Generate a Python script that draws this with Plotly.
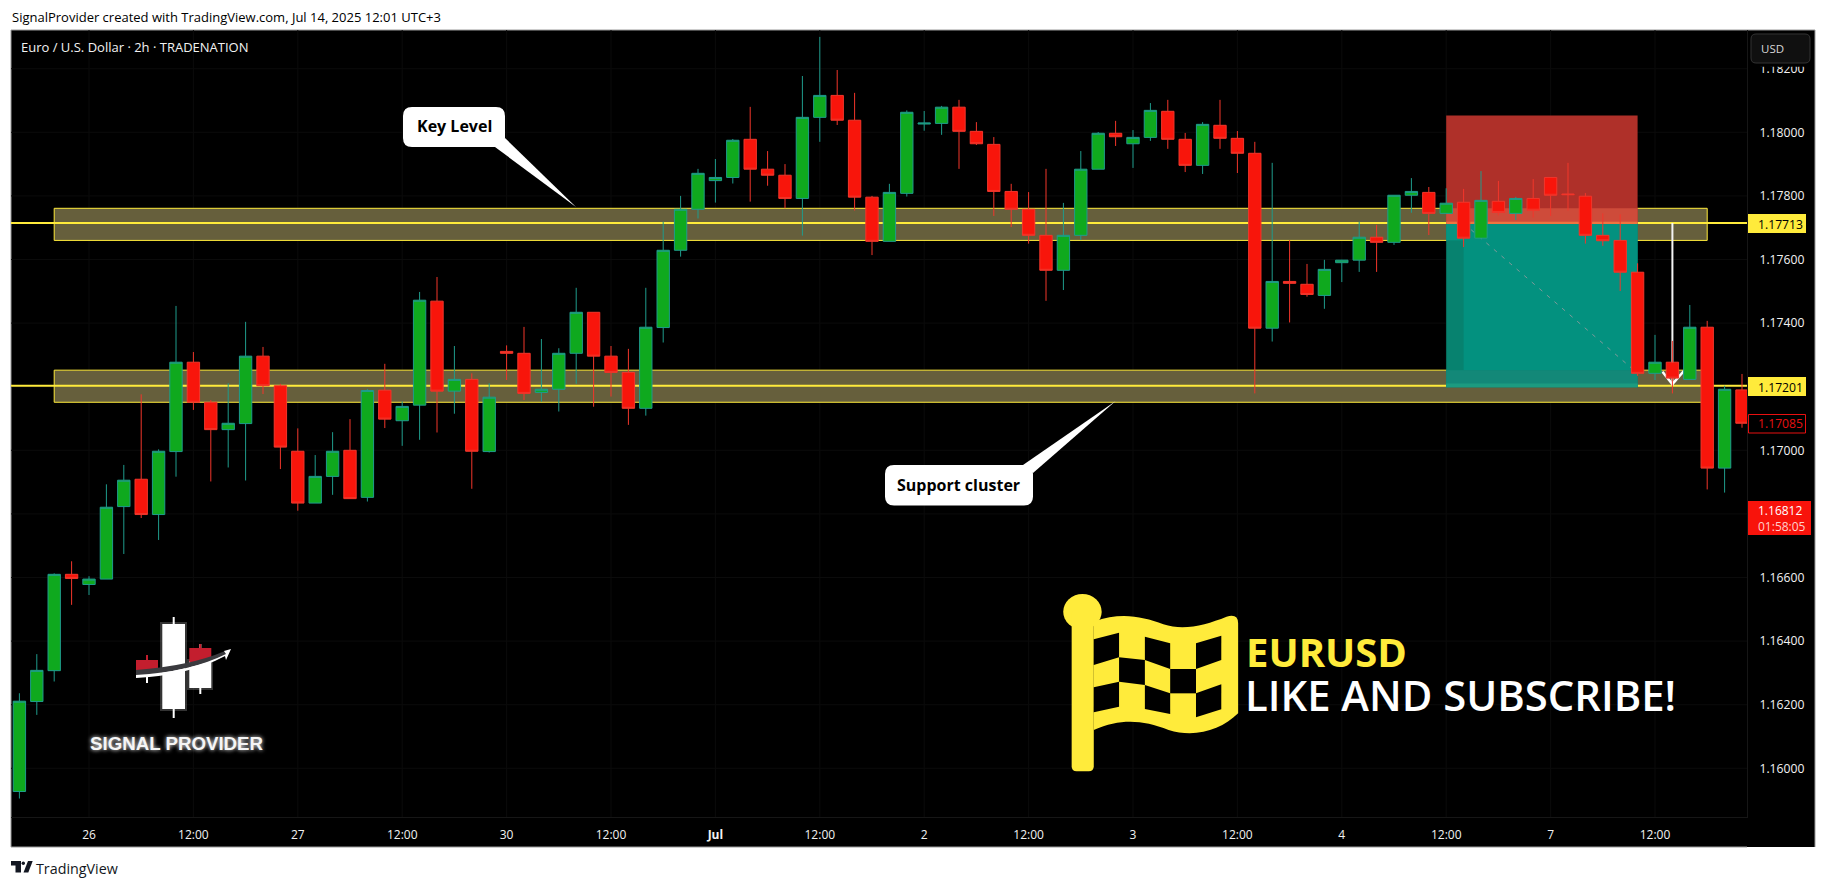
import plotly.graph_objects as go

W, H = 1826, 887

opens = [1.15927,1.16210,1.16307,1.16610,1.16578,1.16595,1.16823,1.16909,1.16798,1.16996,
         1.17277,1.17151,1.17065,1.17084,1.17296,1.17203,1.16997,1.16834,1.16918,1.17000,
         1.16852,1.17189,1.17093,1.17142,1.17469,1.17186,1.17223,1.16996,1.17311,1.17305,
         1.17182,1.17192,1.17305,1.17434,1.17296,1.17245,1.17132,1.17386,1.17629,1.17758,
         1.17848,1.17858,1.17978,1.17884,1.17865,1.17792,1.18047,1.18116,1.18038,1.17796,
         1.17657,1.17808,1.18026,1.18028,1.18079,1.18003,1.17962,1.17814,1.17758,1.17676,
         1.17566,1.17676,1.17884,1.17997,1.17964,1.17984,1.18066,1.17978,1.17896,1.18022,
         1.17981,1.17934,1.17384,1.17531,1.17522,1.17487,1.17590,1.17598,1.17670,1.17654,
         1.17802,1.17811,1.17745,1.17780,1.17667,1.17783,1.17745,1.17792,1.17858,1.17806,
         1.17799,1.17676,1.17660,1.17560,1.17242,1.17277,1.17223,1.17387,1.16944,1.17190]
highs = [1.16236,1.16359,1.16613,1.16651,1.16604,1.16893,1.16954,1.17176,1.17003,1.17454,
         1.17309,1.17158,1.17211,1.17404,1.17325,1.17209,1.17069,1.16985,1.17057,1.17098,
         1.17193,1.17272,1.17154,1.17498,1.17545,1.17328,1.17242,1.17211,1.17330,1.17388,
         1.17350,1.17321,1.17511,1.17434,1.17328,1.17319,1.17511,1.17719,1.17800,1.17885,
         1.17916,1.17979,1.18080,1.17941,1.17900,1.18177,1.18300,1.18196,1.18124,1.17800,
         1.17838,1.18069,1.18067,1.18083,1.18102,1.18032,1.17985,1.17838,1.17812,1.17885,
         1.17778,1.17941,1.18001,1.18036,1.18007,1.18092,1.18102,1.17998,1.18032,1.18102,
         1.18004,1.17970,1.17904,1.17661,1.17586,1.17599,1.17599,1.17719,1.17709,1.17802,
         1.17856,1.17828,1.17824,1.17822,1.17878,1.17847,1.17797,1.17853,1.17858,1.17904,
         1.17809,1.17745,1.17742,1.17588,1.17363,1.17344,1.17457,1.17407,1.17203,1.17240]
lows = [1.15905,1.16168,1.16273,1.16514,1.16545,1.16595,1.16674,1.16787,1.16718,1.16917,
        1.17127,1.16902,1.16946,1.16905,1.17177,1.16941,1.16810,1.16834,1.16860,1.16848,
        1.16839,1.17070,1.17014,1.17033,1.17056,1.17115,1.16879,1.16993,1.17221,1.17158,
        1.17153,1.17122,1.17209,1.17137,1.17169,1.17080,1.17109,1.17339,1.17609,1.17729,
        1.17779,1.17839,1.17782,1.17832,1.17761,1.17675,1.17970,1.18023,1.17754,1.17614,
        1.17657,1.17798,1.18005,1.17992,1.17885,1.17960,1.17737,1.17702,1.17650,1.17470,
        1.17504,1.17661,1.17884,1.17957,1.17888,1.17973,1.17948,1.17875,1.17869,1.17948,
        1.17872,1.17179,1.17342,1.17402,1.17483,1.17445,1.17529,1.17561,1.17561,1.17646,
        1.17747,1.17677,1.17745,1.17639,1.17667,1.17739,1.17724,1.17732,1.17737,1.17754,
        1.17650,1.17643,1.17501,1.17234,1.17221,1.17179,1.17223,1.16877,1.16867,1.17071]
closes = [1.16211,1.16308,1.16610,1.16597,1.16595,1.16821,1.16906,1.16798,1.16997,1.17277,
          1.17151,1.17065,1.17085,1.17296,1.17203,1.17010,1.16834,1.16918,1.16997,1.16848,
          1.17188,1.17098,1.17138,1.17472,1.17186,1.17223,1.16997,1.17167,1.17305,1.17179,
          1.17192,1.17305,1.17434,1.17296,1.17245,1.17132,1.17387,1.17629,1.17758,1.17871,
          1.17858,1.17975,1.17884,1.17865,1.17792,1.18047,1.18116,1.18038,1.17796,1.17657,
          1.17811,1.18063,1.18029,1.18079,1.18003,1.17964,1.17814,1.17758,1.17676,1.17566,
          1.17676,1.17884,1.17997,1.17986,1.17984,1.18069,1.17978,1.17896,1.18025,1.17981,
          1.17934,1.17384,1.17531,1.17525,1.17490,1.17569,1.17598,1.17670,1.17654,1.17802,
          1.17814,1.17745,1.17777,1.17667,1.17786,1.17748,1.17792,1.17755,1.17802,1.17804,
          1.17676,1.17659,1.17560,1.17242,1.17277,1.17227,1.17387,1.16944,1.17192,1.17085]
bars = list(range(len(opens)))

time_tick_bars = [4, 10, 16, 22, 28, 34, 40, 46, 52, 58, 64, 70, 76, 82, 88, 94]
time_tick_labels = ["26", "12:00", "27", "12:00", "30", "12:00", "<b>Jul</b>", "12:00",
                    "2", "12:00", "3", "12:00", "4", "12:00", "7", "12:00"]
price_ticks = [1.16, 1.162, 1.164, 1.166, 1.168, 1.17, 1.172, 1.174, 1.176, 1.178, 1.18, 1.182]

key_level_zone = [1.17660, 1.17761]
support_zone = [1.17151, 1.17252]
key_level_line = 1.17715
support_line = 1.17203
zone_bars = [2.0, 97.0]
pos_bars = [82, 83, 93]
pos_stop = 1.18053
pos_entry = 1.17714
pos_target = 1.17198
move_bar = 95

YEL = "#FFEB3B"
FONT = "Open Sans"
PLOT_L, PLOT_R, PLOT_T, PLOT_B, FRAME_R, FRAME_B = 11, 1747, 30, 817, 1815, 847

y_of = lambda py: 1.18 - (py - 132.3) / 31800
x_of = lambda px: (px - 19.4) / 17.4
XMIN, XMAX, YMIN, YMAX = x_of(PLOT_L), x_of(PLOT_R), y_of(PLOT_B), y_of(PLOT_T)


def X(p):
    return p / W


def Y(p):
    return 1 - p / H


def path(points, close=True):
    s = "M" + " L".join(f"{X(a):.5f},{Y(b):.5f}" for a, b in points)
    return s + (" Z" if close else "")


def curve(cmds):
    out = []
    for c in cmds:
        pts = " ".join(f"{X(c[i]):.5f},{Y(c[i+1]):.5f}" for i in range(1, len(c), 2))
        out.append(c[0] + pts)
    return " ".join(out) + " Z"


def rrect(x0, y0, x1, y1, r):
    return curve([("M", x0 + r, y0), ("L", x1 - r, y0), ("Q", x1, y0, x1, y0 + r), ("L", x1, y1 - r),
                  ("Q", x1, y1, x1 - r, y1), ("L", x0 + r, y1), ("Q", x0, y1, x0, y1 - r),
                  ("L", x0, y0 + r), ("Q", x0, y0, x0 + r, y0)])


shapes = []


def pshape(d, fill, line=None, lw=0, layer="above"):
    shapes.append(dict(type="path", xref="paper", yref="paper", path=d, fillcolor=fill,
                       line=dict(color=line or "rgba(0,0,0,0)", width=lw), layer=layer))


def prect(x0, y0, x1, y1, fill, line=None, lw=0, layer="above"):
    shapes.append(dict(type="rect", xref="paper", yref="paper", x0=X(x0), x1=X(x1), y0=Y(y0), y1=Y(y1),
                       fillcolor=fill, line=dict(color=line or "rgba(0,0,0,0)", width=lw), layer=layer))


def pline(x0, y0, x1, y1, color, lw=1, layer="below"):
    shapes.append(dict(type="line", xref="paper", yref="paper", x0=X(x0), x1=X(x1), y0=Y(y0), y1=Y(y1),
                       line=dict(color=color, width=lw), layer=layer))


def drect(x0, x1, y0, y1, fill, line=None, lw=0):
    shapes.append(dict(type="rect", xref="x", yref="y", x0=x0, x1=x1, y0=y0, y1=y1, fillcolor=fill,
                       line=dict(color=line or "rgba(0,0,0,0)", width=lw), layer="below"))


def dline(x0, x1, y0, y1, color, lw=1, dash="solid"):
    shapes.append(dict(type="line", xref="x", yref="y", x0=x0, x1=x1, y0=y0, y1=y1,
                       line=dict(color=color, width=lw, dash=dash), layer="below"))


# frame
prect(PLOT_L, PLOT_T, FRAME_R, FRAME_B, "#000000", layer="below")
pline(PLOT_L, PLOT_T, FRAME_R, PLOT_T, "#9a9a9a")
pline(PLOT_L, PLOT_T, PLOT_L, FRAME_B, "#9a9a9a")
pline(PLOT_L, FRAME_B, PLOT_R, FRAME_B, "#9a9a9a")
pline(FRAME_R, PLOT_T, FRAME_R, FRAME_B, "#9a9a9a")

# grid, beneath the zones
GRID = "#0b0b0b"
for t in time_tick_bars:
    dline(t, t, YMIN, YMAX, GRID)
for p in price_ticks:
    dline(XMIN, XMAX, p, p, GRID)

# zones and level lines
for z in (key_level_zone, support_zone):
    drect(zone_bars[0], zone_bars[1], z[0], z[1], "#665F3C", YEL, 1)
for lv in (key_level_line, support_line):
    dline(XMIN, XMAX, lv, lv, YEL, 2)

# position box
a, b, c = pos_bars
drect(a, c, pos_entry, pos_stop, "#AF3029")
drect(a, c, pos_entry, key_level_zone[1], "#CE4B3A")
drect(a, c, pos_target, pos_entry, "#07826F")
drect(b, c, support_zone[1], pos_entry, "#03917F")
drect(a, b, key_level_zone[0], pos_entry, "#059481")
drect(a, c, pos_target, support_zone[1], "#138878")
drect(a, c, pos_target, pos_target + 0.00012, "#1C9B80")
drect(a, c, pos_entry - 0.00002, pos_entry + 0.00005, "#EE7440")
dline(b, c, pos_entry, 1.17242, "#7d9a9a", 1, "4px,6px")

# move arrow
dline(move_bar, move_bar, support_line, key_level_line, "#F4F4F4", 2)
dline(move_bar - 0.57, move_bar, 1.17247, 1.17208, "#FFFFFF", 2.5)
dline(move_bar + 0.67, move_bar, 1.17250, 1.17208, "#FFFFFF", 2.5)

# USD button cover
prect(1748, 31, 1814, 66.7, "#000000")
pshape(rrect(1751, 34, 1810, 63, 5), "#101010", "#333333", 1)

# price labels
prect(1748, 214, 1806, 233, YEL)
prect(1748, 377, 1806, 396, YEL)
prect(1748.5, 414.5, 1805.5, 433, "#000000", "#E81010", 1)
prect(1748, 501, 1811, 535, "#F8130B")

# callouts
pshape(rrect(403, 107, 505, 147, 9), "#FFFFFF")
pshape(path([(505, 138), (576, 207), (495, 147)]), "#FFFFFF")
pshape(rrect(885, 465, 1033, 505.5, 9), "#FFFFFF")
pshape(path([(1023, 465), (1115.7, 401), (1033, 473)]), "#FFFFFF")

# logo, soft halo first
for x0, y0, x1, y1 in [(160, 622, 187, 711), (187, 659, 213, 690)]:
    prect(x0, y0, x1, y1, "rgba(255,255,255,0.2)")
prect(172.7, 617, 174.7, 718, "#FFFFFF")
prect(162.3, 624, 185, 709, "#FFFFFF")
prect(199.3, 644, 201.3, 694, "#FFFFFF")
prect(189.3, 661, 211.3, 688, "#FFFFFF")
prect(199.3, 644, 201.3, 650, "#C31E2E")
prect(189.3, 648, 211.3, 662, "#C31E2E")
prect(146, 655, 148, 661, "#C31E2E")
prect(136, 660, 158, 670, "#C31E2E")
prect(146, 675, 148, 683, "#FFFFFF")
pshape(curve([("M", 136, 670), ("Q", 190, 666, 225, 651), ("L", 228, 655), ("Q", 190, 671, 136, 676)]), "#3A3A3E")
pshape(curve([("M", 136, 675), ("Q", 190, 672, 226, 654), ("L", 224, 651), ("L", 231, 649), ("L", 226, 660),
              ("L", 225, 656), ("Q", 190, 675, 136, 678)]), "#FFFFFF")

# flag
FX = lambda v: 1000 + v / 1.898
FY = lambda v: 570 + v / 3
fl = "#FFEB3B"
shapes.append(dict(type="circle", xref="paper", yref="paper", x0=X(FX(120)), x1=X(FX(193)), y0=Y(FY(178)), y1=Y(FY(72)),
                   fillcolor=fl, line=dict(color=fl, width=0), layer="above"))
pshape(rrect(FX(136), FY(120), FX(178), FY(604), 5), fl)
pshape(curve([("M", FX(178), FY(155)),
              ("C", FX(230), FY(125), FX(270), FY(140), FX(310), FY(163)),
              ("C", FX(350), FY(183), FX(390), FY(165), FX(430), FY(140)),
              ("Q", FX(452), FY(130), FX(452), FY(160)),
              ("L", FX(452), FY(430)),
              ("C", FX(420), FY(480), FX(370), FY(505), FX(320), FY(480)),
              ("C", FX(270), FY(450), FX(230), FY(445), FX(178), FY(480))]), fl)
cols = [178, 226, 275, 323, 372, 420]
rows = [[208, 188, 200, 220, 220, 197], [285, 262, 270, 297, 297, 270],
        [352, 335, 345, 370, 370, 343], [427, 410, 417, 432, 442, 418]]
for r in range(3):
    for k in range(5):
        if (r + k) % 2 == 0:
            pshape(path([(FX(cols[k]), FY(rows[r][k])), (FX(cols[k + 1]), FY(rows[r][k + 1])),
                         (FX(cols[k + 1]), FY(rows[r + 1][k + 1])), (FX(cols[k]), FY(rows[r + 1][k]))]), "#000000")

# TradingView mark
tv = "#131722"
pshape(path([(11, 861), (21, 861), (21, 872.5), (15.5, 872.5), (15.5, 865.5), (11, 865.5)]), tv)
shapes.append(dict(type="circle", xref="paper", yref="paper", x0=X(21.6), x1=X(25), y0=Y(865), y1=Y(861.5),
                   fillcolor=tv, line=dict(color=tv, width=0), layer="above"))
pshape(path([(28, 861), (32.7, 861), (28.3, 872.5), (23.5, 872.5)]), tv)


def note(x, y, text, size=12, color="#000000", anchor="left", family=FONT, **kw):
    font = dict(size=size, color=color, family=family)
    font.update(kw.pop("font_extra", {}))
    return dict(x=X(x), y=Y(y), xref="paper", yref="paper", text=text, showarrow=False, xanchor=anchor,
                yanchor="middle", font=font, borderpad=0, **kw)


annotations = [
    note(11, 16.7, "SignalProvider created with TradingView.com, Jul 14, 2025 12:01 UTC+3", 13),
    note(20, 46.7, "Euro / U.S. Dollar · 2h · TRADENATION", 13, "#F2F2F2"),
    note(1760, 48, "USD", 11.5, "#D8D8D8"),
    note(1757, 224, "1.17713", 12.2),
    note(1757, 387, "1.17201", 12.2),
    note(1757, 424, "1.17085", 12.2, "#E81010"),
    note(1756.5, 518, "1.16812<br><span style='color:#FFD0CC'>01:58:05</span>", 12, "#FFFFFF", align="left"),
    note(454, 126.5, "<b>Key Level</b>", 16, anchor="center"),
    note(958, 485, "<b>Support cluster</b>", 16, anchor="center"),
    note(176.7, 743, "<b>SIGNAL PROVIDER</b>", 18.7, "#F5F5F5", "center", "Liberation Sans",
         font_extra=dict(shadow="0 0 4px #ffffff")),
    note(1245, 651, "<b>EURUSD</b>", 40, YEL, height=42),
    note(1244, 694, "LIKE AND SUBSCRIBE!", 41.8, "#FFFFFF", font_extra=dict(weight=600), height=42),
    note(35, 868, "TradingView", 14.3, "#131722"),
]

fig = go.Figure(go.Candlestick(
    x=bars, open=opens, high=highs, low=lows, close=closes,
    increasing=dict(line=dict(color="#1F9C8C", width=1), fillcolor="#0FA91E"),
    decreasing=dict(line=dict(color="#F2362B", width=1), fillcolor="#F8150B"),
    whiskerwidth=0, hoverinfo="skip", showlegend=False,
))

axis_line = "#161616"

fig.update_layout(
    width=W, height=H, margin=dict(l=0, r=0, t=0, b=0, autoexpand=False),
    paper_bgcolor="#FFFFFF", plot_bgcolor="rgba(0,0,0,0)", showlegend=False,
    dragmode=False, shapes=shapes, annotations=annotations, boxgap=0, boxgroupgap=0.29,
    font=dict(family=FONT, color="#F2F2F2", size=12),
    xaxis=dict(domain=[X(PLOT_L), X(PLOT_R)], range=[XMIN, XMAX], rangeslider=dict(visible=False),
               tickmode="array", tickvals=time_tick_bars, ticktext=time_tick_labels, showgrid=False,
               zeroline=False, ticks="", ticklabelstandoff=7, showline=True, linecolor=axis_line,
               tickfont=dict(size=12, color="#F2F2F2", family=FONT), fixedrange=True, anchor="y"),
    yaxis=dict(domain=[Y(PLOT_B), Y(PLOT_T)], range=[YMIN, YMAX], side="right", tickmode="array",
               tickvals=price_ticks, ticktext=[f"{p:.5f}" for p in price_ticks], showgrid=False,
               zeroline=False, ticks="", ticklabelstandoff=9, showline=True, linecolor=axis_line,
               tickfont=dict(size=12.2, color="#F2F2F2", family=FONT), fixedrange=True, anchor="x"),
)

fig.write_html("out.html", config=dict(displayModeBar=False, staticPlot=True),
               post_script="document.body.style.margin='0';")
